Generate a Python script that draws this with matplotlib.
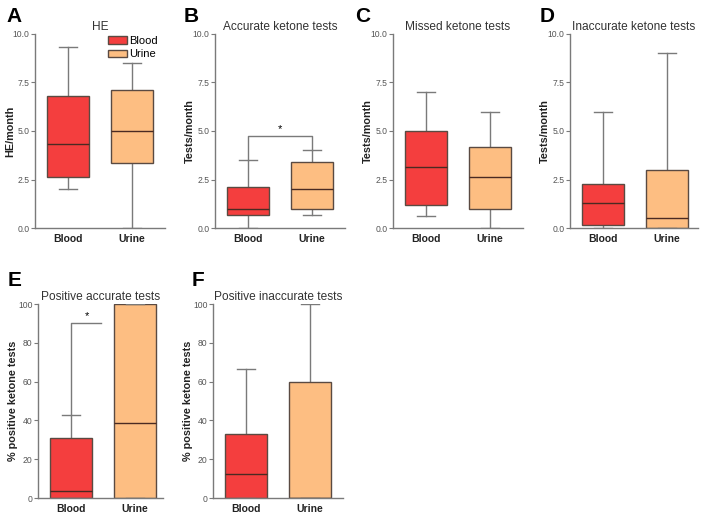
import matplotlib
matplotlib.use("Agg")
import matplotlib.pyplot as plt
from matplotlib.patches import Patch

plt.rcParams["font.family"] = ["Liberation Sans", "DejaVu Sans"]

groups = ["Blood", "Urine"]

# box stats: [whisker low, q1, median, q3, whisker high] for Blood, Urine
he_blood = [2.0, 2.65, 4.35, 6.8, 9.35]
he_urine = [0.0, 3.35, 5.0, 7.1, 8.5]
acc_blood = [0.0, 0.65, 1.0, 2.1, 3.5]
acc_urine = [0.65, 1.0, 2.0, 3.4, 4.0]
miss_blood = [0.6, 1.2, 3.15, 5.0, 7.0]
miss_urine = [0.0, 1.0, 2.65, 4.2, 6.0]
inacc_blood = [0.0, 0.15, 1.3, 2.25, 6.0]
inacc_urine = [0.0, 0.0, 0.5, 3.0, 9.0]
posacc_blood = [0.0, 0.0, 3.5, 31.0, 43.0]
posacc_urine = [0.0, 0.0, 38.5, 100.0, 100.0]
posinacc_blood = [0.0, 0.0, 12.5, 33.0, 66.5]
posinacc_urine = [0.0, 0.0, 0.0, 60.0, 100.0]

rate_ticks = [0.0, 2.5, 5.0, 7.5, 10.0]
pct_ticks = [0, 20, 40, 60, 80, 100]

RED = "#f43e3e"
ORANGE = "#fdbe82"
EDGE = "#5a4a42"
GRAY = "#7a7a7a"

W, H = 704, 519
fig = plt.figure(figsize=(W / 100, H / 100), dpi=100)


def panel(x0, x1, y0, y1, blood, urine, ticks, ylabel, title, letter, letter_xy):
    # axes placed in pixels (top-left origin); boxes sit 33 px and 97 px right of the spine
    ax = fig.add_axes([x0 / W, 1 - y1 / H, (x1 - x0) / W, (y1 - y0) / H])
    unit = 64.0
    stats = []
    for s in (blood, urine):
        stats.append(dict(whislo=s[0], q1=s[1], med=s[2], q3=s[3], whishi=s[4], fliers=[]))
    bp = ax.bxp(stats, positions=[1, 2], widths=0.66, patch_artist=True,
                showfliers=False, capwidths=[0.29, 0.29],
                boxprops=dict(edgecolor=EDGE, linewidth=1.0),
                medianprops=dict(color="#4a2a22", linewidth=1.0),
                whiskerprops=dict(color=GRAY, linewidth=1.0),
                capprops=dict(color=GRAY, linewidth=1.0))
    for patch, c in zip(bp["boxes"], (RED, ORANGE)):
        patch.set_facecolor(c)
    # whiskers go behind the boxes
    for w in bp["whiskers"]:
        w.set_zorder(0.5)
    ax.set_xlim(1 - 33 / unit, 2 + (x1 - x0 - 97) / unit)
    ax.set_ylim(ticks[0], ticks[-1])
    ax.set_yticks(ticks)
    if isinstance(ticks[0], float):
        ax.set_yticklabels(["%.1f" % t for t in ticks])
    ax.set_xticks([1, 2])
    ax.set_xticklabels(groups, fontweight="bold", fontsize=7.5, color="#222222")
    ax.tick_params(axis="x", length=0, pad=4)
    ax.tick_params(axis="y", length=3, width=0.8, color=GRAY, labelsize=6.2,
                   labelcolor="#555555", pad=1)
    for side in ("top", "right"):
        ax.spines[side].set_visible(False)
    for side in ("left", "bottom"):
        ax.spines[side].set_color(GRAY)
        ax.spines[side].set_linewidth(1.0)
    ax.set_ylabel(ylabel, fontweight="bold", fontsize=7.8, color="#222222")
    ax.yaxis.set_label_coords(-20 / (x1 - x0), 0.5)
    ax.set_title(title, fontsize=8.6, color="#333333", pad=3)
    fig.text(letter_xy[0] / W, 1 - letter_xy[1] / H, letter, fontsize=15,
             fontweight="bold", va="center", ha="left")
    return ax


axA = panel(35, 165, 34, 228, he_blood, he_urine, rate_ticks,
            "HE/month", "HE", "A", (6, 16))
axB = panel(215, 345, 34, 228, acc_blood, acc_urine, rate_ticks,
            "Tests/month", "Accurate ketone tests", "B", (184, 16))
axC = panel(393, 523, 34, 228, miss_blood, miss_urine, rate_ticks,
            "Tests/month", "Missed ketone tests", "C", (355, 16))
axD = panel(570, 698, 34, 228, inacc_blood, inacc_urine, rate_ticks,
            "Tests/month", "Inaccurate ketone tests", "D", (540, 16))
axE = panel(38, 163, 304, 498, posacc_blood, posacc_urine, pct_ticks,
            "% positive ketone tests", "Positive accurate tests", "E", (8, 281))
axF = panel(213, 343, 304, 498, posinacc_blood, posinacc_urine, pct_ticks,
            "% positive ketone tests", "Positive inaccurate tests", "F", (192, 281))

# significance brackets
axB.plot([1, 1, 2, 2], [acc_blood[4], 4.75, 4.75, acc_urine[4]], color=GRAY, lw=1.0, zorder=0.5)
axB.text(1.5, 4.85, "*", ha="center", va="bottom", fontsize=8)
axE.plot([1, 1, 1.47], [posacc_blood[4], 90, 90], color=GRAY, lw=1.0, zorder=0.5)
axE.text(1.25, 91, "*", ha="center", va="bottom", fontsize=8)

axA.legend(handles=[Patch(facecolor=RED, edgecolor=EDGE, label="Blood"),
                    Patch(facecolor=ORANGE, edgecolor=EDGE, label="Urine")],
           loc="upper right", bbox_to_anchor=(0.98, 1.015), frameon=False, fontsize=8,
           handlelength=1.7, handleheight=0.7, handletextpad=0.2, labelspacing=0.35,
           borderaxespad=0)

fig.savefig("out.png", dpi=100)
